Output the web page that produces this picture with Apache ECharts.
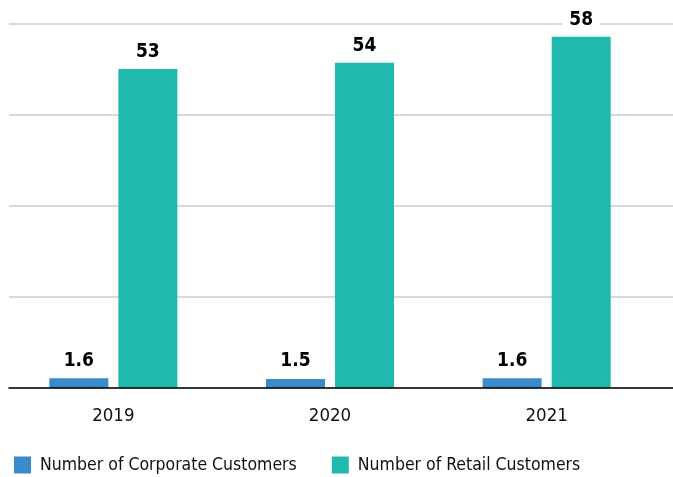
<!DOCTYPE html>
<html>
<head>
<meta charset="utf-8">
<script src="https://cdn.jsdelivr.net/npm/echarts@6/dist/echarts.min.js"></script>
<style>
  html, body { margin: 0; padding: 0; background: #fff; }
  #chart { width: 673px; height: 477px; }
</style>
</head>
<body>
<div id="chart"></div>
<script>
const years = ["2019", "2020", "2021"];
const corporateCustomers = [1.6, 1.5, 1.6];
const retailCustomers = [52.6, 53.6, 57.9];
const seriesNames = ["Number of Corporate Customers", "Number of Retail Customers"];

const FONT = '"DejaVu Sans Condensed", "Liberation Sans Narrow", sans-serif';

const chart = echarts.init(document.getElementById("chart"));

chart.setOption({
  animation: false,
  color: ["#3a8bcb", "#20b9ae"],
  textStyle: { fontFamily: FONT },
  legend: {
    data: seriesNames,
    left: 9,
    top: 451,
    icon: "rect",
    itemWidth: 17,
    itemHeight: 17,
    itemGap: 35,
    textStyle: {
      fontFamily: FONT,
      fontSize: 17.5,
      color: "#111",
      padding: [0, 0, 0, 4],
    },
  },
  grid: [
    // gridlines + baseline
    { left: 9, right: 0, top: 24, bottom: 89 },
    // bars
    { left: 5, right: 18, top: 24, bottom: 89 },
  ],
  xAxis: [
    {
      gridIndex: 0,
      type: "category",
      data: years,
      z: 5,
      axisLine: { lineStyle: { color: "#000", width: 1.5 } },
      axisTick: { show: false },
      axisLabel: { show: false },
    },
    {
      gridIndex: 1,
      type: "category",
      data: years,
      axisLine: { show: false },
      axisTick: { show: false },
      axisLabel: {
        fontFamily: FONT,
        fontSize: 18.5,
        color: "#111",
        margin: 19,
      },
    },
  ],
  yAxis: [
    {
      gridIndex: 0,
      type: "value",
      min: 0,
      max: 60,
      interval: 15,
      axisLine: { show: false },
      axisTick: { show: false },
      axisLabel: { show: false },
      splitLine: { lineStyle: { color: "#cccccc", width: 1.5 } },
    },
    {
      gridIndex: 1,
      type: "value",
      min: 0,
      max: 60,
      interval: 15,
      show: false,
      splitLine: { show: false },
    },
  ],
  series: [
    {
      name: seriesNames[0],
      type: "bar",
      xAxisIndex: 1,
      yAxisIndex: 1,
      barWidth: 59,
      barGap: "17%",
      data: corporateCustomers,
      label: {
        show: true,
        position: "top",
        distance: 8,
        fontFamily: FONT,
        fontWeight: "bold",
        fontSize: 19,
        color: "#000",
        formatter: (p) => p.value.toFixed(1),
      },
    },
    {
      name: seriesNames[1],
      type: "bar",
      xAxisIndex: 1,
      yAxisIndex: 1,
      barWidth: 59,
      data: retailCustomers,
      label: {
        show: true,
        position: "top",
        distance: 7,
        fontFamily: FONT,
        fontWeight: "bold",
        fontSize: 19,
        color: "#000",
        backgroundColor: "#fff",
        padding: [0, 7],
        formatter: (p) => Math.round(p.value),
      },
    },
  ],
});
</script>
</body>
</html>
